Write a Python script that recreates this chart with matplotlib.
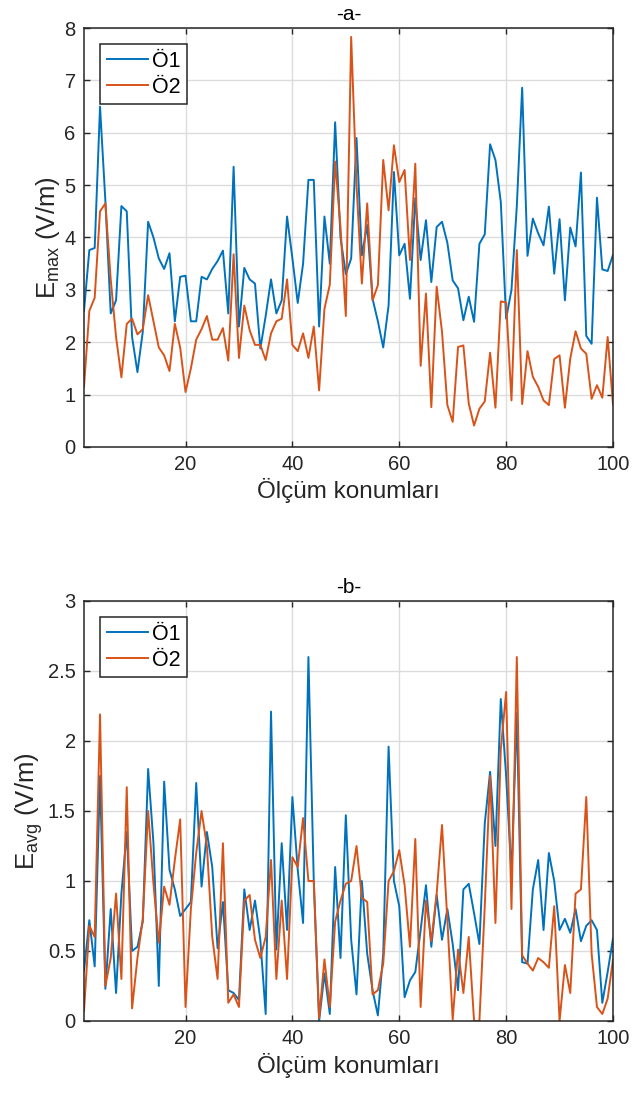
import numpy as np
import matplotlib
matplotlib.use("Agg")
import matplotlib.pyplot as plt

plt.rcParams['font.family'] = ['Liberation Sans', 'DejaVu Sans']
plt.rcParams['mathtext.fontset'] = 'custom'
plt.rcParams['mathtext.rm'] = 'Liberation Sans'
plt.rcParams['mathtext.it'] = 'Liberation Sans'

x = np.arange(1, 101)

emax_o1 = [2.6, 3.76, 3.8, 6.5, 4.7, 2.55, 2.8, 4.6, 4.5, 2.1,
           1.43, 2.2, 4.3, 4.0, 3.6, 3.4, 3.7, 2.4, 3.25, 3.27,
           2.4, 2.4, 3.25, 3.2, 3.4, 3.55, 3.75, 2.55, 5.35, 2.3,
           3.42, 3.2, 3.12, 1.88, 2.5, 3.2, 2.55, 2.8, 4.4, 3.6,
           2.75, 3.5, 5.1, 5.1, 2.3, 4.4, 3.5, 6.2, 4.0, 3.3,
           3.6, 5.9, 3.66, 4.24, 2.83, 2.4, 1.9, 2.7, 5.25, 3.66,
           3.88, 2.83, 4.75, 3.57, 4.33, 3.15, 4.2, 4.3, 3.9, 3.18,
           3.03, 2.42, 2.87, 2.39, 3.88, 4.06, 5.78, 5.48, 4.68, 2.45,
           3.0, 4.6, 6.86, 3.65, 4.36, 4.08, 3.85, 4.59, 3.31, 4.35,
           2.8, 4.19, 3.83, 5.24, 2.12, 1.97, 4.76, 3.39, 3.36, 3.67]

emax_o2 = [1.15, 2.6, 2.85, 4.5, 4.65, 3.2, 2.1, 1.33, 2.35, 2.45,
           2.15, 2.25, 2.9, 2.4, 1.9, 1.75, 1.45, 2.35, 1.9, 1.05,
           1.5, 2.05, 2.25, 2.5, 2.05, 2.05, 2.27, 1.65, 3.68, 1.7,
           2.7, 2.23, 1.95, 1.95, 1.66, 2.17, 2.4, 2.45, 3.2, 1.95,
           1.83, 2.17, 1.7, 2.3, 1.08, 2.64, 3.1, 5.45, 4.2, 2.5,
           7.83, 5.0, 3.12, 4.65, 2.8, 3.09, 5.48, 4.52, 5.76, 5.06,
           5.29, 3.57, 5.41, 1.55, 2.93, 0.76, 3.06, 2.2, 0.8, 0.48,
           1.91, 1.94, 0.83, 0.41, 0.73, 0.87, 1.8, 0.75, 2.78, 2.76,
           0.89, 3.76, 0.82, 1.83, 1.34, 1.15, 0.89, 0.8, 1.68, 1.75,
           0.75, 1.69, 2.21, 1.88, 1.78, 0.92, 1.18, 0.94, 2.1, 0.81]

eavg_o1 = [0.36, 0.72, 0.39, 1.75, 0.23, 0.8, 0.2, 0.91, 1.35, 0.5,
           0.53, 0.71, 1.8, 1.27, 0.25, 1.71, 1.08, 0.94, 0.75, 0.8,
           0.85, 1.7, 0.96, 1.35, 1.1, 0.52, 0.85, 0.22, 0.2, 0.15,
           0.94, 0.65, 0.86, 0.58, 0.05, 2.21, 0.51, 1.27, 0.65, 1.6,
           1.08, 0.7, 2.6, 1.0, 0.0, 0.34, 0.05, 1.1, 0.45, 1.47,
           0.58, 0.19, 1.0, 0.48, 0.22, 0.04, 0.48, 1.96, 1.0, 0.82,
           0.17, 0.29, 0.35, 0.65, 0.97, 0.53, 0.9, 0.58, 0.8, 0.55,
           0.22, 0.94, 0.98, 0.77, 0.55, 1.41, 1.78, 1.25, 2.3, 1.75,
           1.05, 2.2, 0.42, 0.41, 0.94, 1.15, 0.65, 1.2, 1.0, 0.65,
           0.73, 0.63, 0.8, 0.57, 0.68, 0.72, 0.65, 0.13, 0.35, 0.59]

eavg_o2 = [0.07, 0.68, 0.6, 2.19, 0.25, 0.45, 0.91, 0.3, 1.67, 0.09,
           0.45, 0.73, 1.5, 0.98, 0.56, 0.96, 0.83, 1.15, 1.44, 0.1,
           0.8, 1.2, 1.5, 1.25, 0.6, 0.3, 1.27, 0.13, 0.19, 0.1,
           0.86, 0.9, 0.58, 0.45, 0.6, 1.15, 0.3, 0.86, 0.3, 1.17,
           1.1, 1.45, 1.0, 1.0, 0.02, 0.44, 0.1, 0.71, 0.86, 0.98,
           1.0, 1.25, 0.88, 0.85, 0.19, 0.22, 0.41, 1.0, 1.07, 1.22,
           0.97, 0.53, 1.3, 0.1, 0.86, 0.57, 0.91, 1.4, 0.72, 0.01,
           0.51, 0.2, 0.6, 0.0, 0.0, 0.82, 1.75, 0.7, 1.94, 2.35,
           0.8, 2.6, 0.47, 0.41, 0.36, 0.45, 0.42, 0.38, 0.82, 0.0,
           0.4, 0.2, 0.91, 0.94, 1.6, 0.48, 0.1, 0.05, 0.16, 0.44]

series_names = ['Ö1', 'Ö2']
xticks = [20, 40, 60, 80, 100]
yticks_a = [0, 1, 2, 3, 4, 5, 6, 7, 8]
yticks_b = [0, 0.5, 1, 1.5, 2, 2.5, 3]
ytick_labels_b = ['0', '0.5', '1', '1.5', '2', '2.5', '3']

C1 = '#0072BD'
C2 = '#D95319'

fig = plt.figure(figsize=(6.33, 10.94), dpi=100)
W, H = 633, 1094
ax1 = fig.add_axes([84 / W, 1 - 447 / H, 529 / W, 419 / H])
ax2 = fig.add_axes([84 / W, 1 - 1021 / H, 529 / W, 420 / H])


def style(ax, yt, ylim, ylabel, title, ytl=None):
    ax.set_xlim(1, 100)
    ax.set_ylim(*ylim)
    ax.set_xticks(xticks)
    ax.set_yticks(yt)
    if ytl is not None:
        ax.set_yticklabels(ytl)
    ax.grid(True, color='#dcdcdc', linewidth=1.0)
    ax.set_axisbelow(True)
    ax.tick_params(direction='in', top=True, right=True, length=4,
                   width=1.0, labelsize=14.5, colors='#262626', pad=6)
    for s in ax.spines.values():
        s.set_color('#262626')
        s.set_linewidth(1.1)
    ax.set_xlabel('Ölçüm konumları', fontsize=17.5, color='#262626', labelpad=3)
    ax.set_ylabel(ylabel, fontsize=18.5, color='#262626', labelpad=2)
    ax.set_title(title, fontsize=15, color='black', pad=6)
    leg = ax.legend(loc='upper left', fontsize=15.5, fancybox=False,
                    edgecolor='#262626', framealpha=1, handlelength=1.9,
                    borderpad=0.3, labelspacing=0.25, handletextpad=0.2,
                    borderaxespad=0.75)
    leg.get_frame().set_linewidth(1.1)


ax1.plot(x, emax_o1, color=C1, lw=1.4, label=series_names[0])
ax1.plot(x, emax_o2, color=C2, lw=1.4, label=series_names[1])
style(ax1, yticks_a, (0, 8), r'E$_{\mathrm{max}}$ (V/m)', '-a-')

ax2.plot(x, eavg_o1, color=C1, lw=1.4, label=series_names[0])
ax2.plot(x, eavg_o2, color=C2, lw=1.4, label=series_names[1])
style(ax2, yticks_b, (0, 3), r'E$_{\mathrm{avg}}$ (V/m)', '-b-', ytick_labels_b)

fig.savefig('out.png', dpi=100)
